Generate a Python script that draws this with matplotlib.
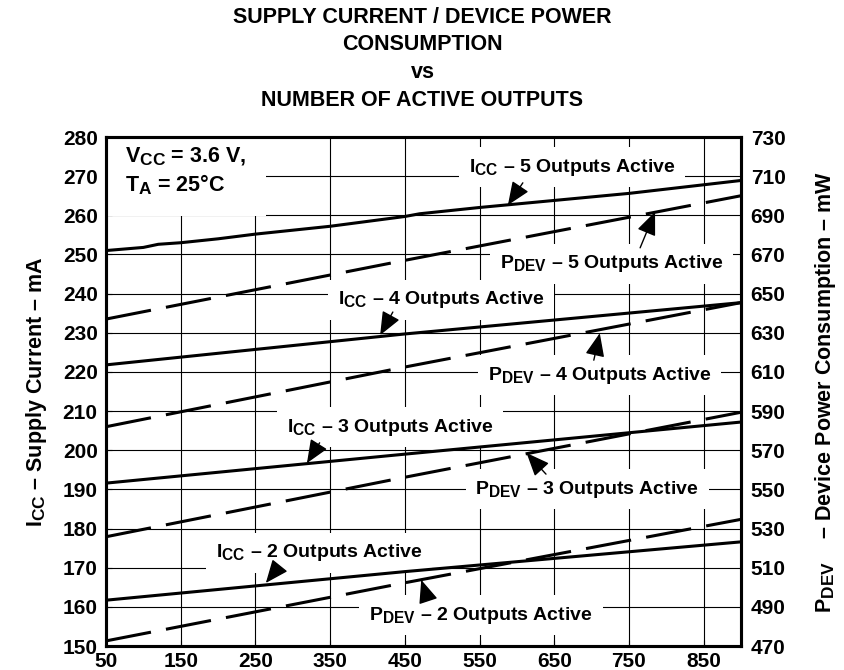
import numpy as np
import matplotlib
matplotlib.use('Agg')
import matplotlib.pyplot as plt
import matplotlib._mathtext as mathtext_internal

plt.rcParams['font.family'] = ['Liberation Sans', 'DejaVu Sans']
plt.rcParams['font.weight'] = 'bold'
plt.rcParams['mathtext.fontset'] = 'custom'
plt.rcParams['mathtext.rm'] = 'Liberation Sans:bold'
plt.rcParams['mathtext.it'] = 'Liberation Sans:bold'
plt.rcParams['mathtext.bf'] = 'Liberation Sans:bold'
plt.rcParams['mathtext.default'] = 'rm'
# subscripts in the original are only a little smaller than the main text
mathtext_internal.SHRINK_FACTOR = 0.8

# number of active outputs (x axis)
x_icc5 = [50, 100, 120, 150, 200, 250, 300, 350, 450, 470, 550, 650, 750, 850, 900]
icc5 = [251, 251.8, 252.6, 253, 254, 255.2, 256.2, 257.2, 259.7, 260.4, 262, 263.8, 265.6, 267.8, 268.9]

x_lin = [50, 450, 900]
icc4 = [221.8, 229.7, 237.7]
icc3 = [191.6, 199.0, 207.2]
icc2 = [161.7, 169.0, 176.6]

# device power, mW (right axis)
pdev5 = [637, 667, 700]
pdev4 = [582, 612.5, 645.4]
pdev3 = [525.8, 556.2, 589.4]
pdev2 = [472.6, 502.3, 534.7]

xticks = [50, 150, 250, 350, 450, 550, 650, 750, 850]
yticks_left = list(range(150, 290, 10))
yticks_right = list(range(470, 750, 20))

fig = plt.figure(figsize=(8.45, 6.7), dpi=100)
ax = fig.add_axes([0.1254, 0.0358, 0.7515, 0.7597])
ax2 = ax.twinx()

ax.set_xlim(50, 900)
ax.set_ylim(150, 280)
ax2.set_ylim(470, 730)

ax.set_xticks(xticks)
ax.set_yticks(yticks_left)
ax2.set_yticks(yticks_right)
ax.grid(True, color='black', lw=0.8, zorder=0)
ax.set_axisbelow(True)

fs = 15
ax.tick_params(axis='both', labelsize=fs, direction='in', length=4, width=0.8, pad=6)
ax.tick_params(axis='x', pad=4)
ax2.tick_params(axis='y', labelsize=fs, direction='in', length=0, pad=7)
for s in ax.spines.values():
    s.set_linewidth(2.2)
for s in ax2.spines.values():
    s.set_linewidth(2.2)

lw = 2.2
dash = (15, 5)
ax.plot(x_icc5, icc5, color='black', lw=lw, zorder=5)
ax.plot(x_lin, icc4, color='black', lw=lw, zorder=5)
ax.plot(x_lin, icc3, color='black', lw=lw, zorder=5)
ax.plot(x_lin, icc2, color='black', lw=lw, zorder=5)
for p in [pdev5, pdev4, pdev3, pdev2]:
    ax2.plot(x_lin, p, color='black', lw=lw, dashes=dash, zorder=5)

box = dict(boxstyle='square,pad=0.5', facecolor='white', edgecolor='none')
lab_fs = 14
labels = [
    (r'I$_{CC}$ – 5 Outputs Active', 674, 272.3, 608, 268.3, 588, 262.6),
    (r'P$_{DEV}$ – 5 Outputs Active', 727, 247.6, 765, 251.7, 785, 260.9),
    (r'I$_{CC}$ – 4 Outputs Active', 499, 238.4, 434, 235.3, 417, 229.4),
    (r'P$_{DEV}$ – 4 Outputs Active', 711, 219.2, 703, 223.0, 711, 229.9),
    (r'I$_{CC}$ – 3 Outputs Active', 430, 205.9, 336, 201.9, 319, 196.7),
    (r'P$_{DEV}$ – 3 Outputs Active', 694, 190.1, 639, 193.9, 613, 199.3),
    (r'I$_{CC}$ – 2 Outputs Active', 335, 173.8, 280, 169.9, 264, 166.1),
    (r'P$_{DEV}$ – 2 Outputs Active', 552, 157.9, 481, 161.7, 472, 166.9),
]
for txt, tx, ty, ax0, ay0, ax1, ay1 in labels:
    ax.text(tx, ty, txt, fontsize=lab_fs, fontweight='bold', ha='center', va='center',
            bbox=box, zorder=2)
    ax.annotate('', xy=(ax1, ay1), xytext=(ax0, ay0),
                arrowprops=dict(arrowstyle='-|>,head_length=0.6,head_width=0.25',
                                color='black', lw=1.0,
                                mutation_scale=24, shrinkA=0, shrinkB=0),
                zorder=6)

ax.text(76, 271.3, 'V$_{CC}$ = 3.6 V,\nT$_A$ = 25°C', fontsize=15.5,
        fontweight='bold', ha='left', va='center', linespacing=1.25,
        bbox=dict(boxstyle='square,pad=0.9', facecolor='white', edgecolor='none'),
        zorder=2)

ax.set_ylabel(r'I$_{CC}$ – Supply Current – mA', fontsize=15.5, fontweight='bold', labelpad=10)
ax2.set_ylabel(r'P$_{DEV}$    – Device Power Consumption – mW', fontsize=15.5,
               fontweight='bold', labelpad=20, rotation=90)

fig.text(0.5, 0.99, 'SUPPLY CURRENT / DEVICE POWER\nCONSUMPTION\nvs\nNUMBER OF ACTIVE OUTPUTS',
         ha='center', va='top', fontsize=15.5, fontweight='bold', linespacing=1.42)

fig.savefig('out.png', dpi=100)
